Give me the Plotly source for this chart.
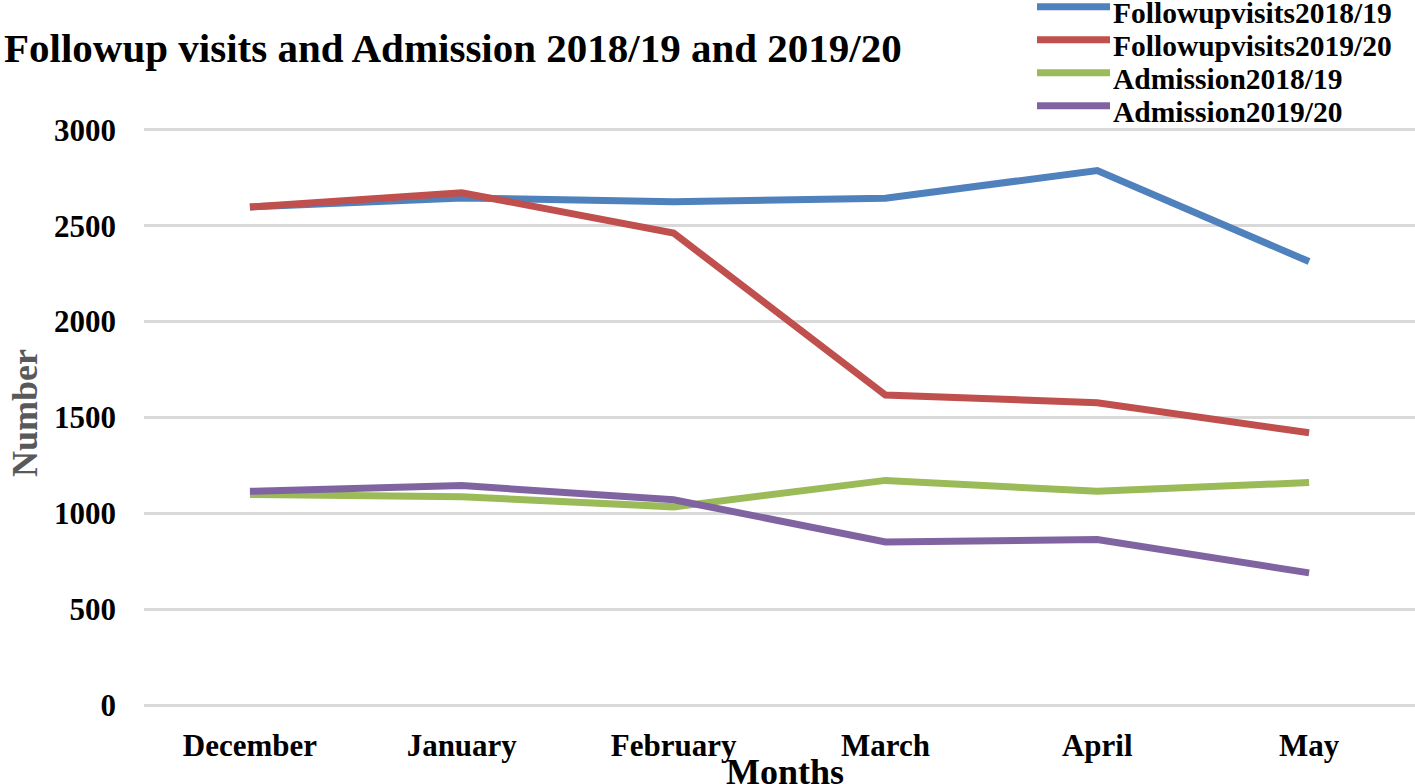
import plotly.graph_objects as go

months = ["December", "January", "February", "March", "April", "May"]
followup_2018_19 = [2598, 2645, 2625, 2643, 2788, 2313]
followup_2019_20 = [2598, 2672, 2462, 1617, 1577, 1420]
admission_2018_19 = [1099, 1087, 1034, 1172, 1115, 1161]
admission_2019_20 = [1115, 1145, 1071, 851, 864, 690]

series_names = ["Followupvisits2018/19", "Followupvisits2019/20", "Admission2018/19", "Admission2019/20"]
series_values = [followup_2018_19, followup_2019_20, admission_2018_19, admission_2019_20]
colors = ["#4f81bd", "#c0504d", "#9bbb59", "#8064a2"]

FONT = "Liberation Serif"
W, H = 1415, 784
# plot area in page pixels
PX0, PX1 = 144, 1415
Y0V, Y1V = -20, 3020
PY_BOT = 705 - Y0V * 575 / 3000
PY_TOP = 705 - Y1V * 575 / 3000
L = PX0
R = W - PX1
T = PY_TOP
B = H - PY_BOT


def px(x):
    return (x - PX0) / (PX1 - PX0)


def py(y):
    return (PY_BOT - y) / (PY_BOT - PY_TOP)


fig = go.Figure()
for name, vals, col in zip(series_names, series_values, colors):
    fig.add_trace(go.Scatter(x=months, y=vals, name=name, mode="lines",
                             line=dict(color=col, width=7), showlegend=False))

fig.update_layout(
    width=W, height=H,
    paper_bgcolor="white", plot_bgcolor="white",
    margin=dict(l=L, r=R, t=T, b=B, autoexpand=False, pad=0),
    font=dict(family=FONT, color="black"),
    showlegend=False,
    xaxis=dict(type="category", showgrid=False, zeroline=False, showline=False,
               range=[-0.5, 5.5],
               tickfont=dict(family=FONT, size=31, color="black", weight="bold"),
               ticks="", ticklabelstandoff=15),
    yaxis=dict(range=[Y0V, Y1V], tickvals=[0, 500, 1000, 1500, 2000, 2500, 3000],
               showgrid=True, gridcolor="#d9d9d9",
               gridwidth=2.5, zeroline=False, showline=False, ticks="",
               tickfont=dict(family=FONT, size=31, color="black", weight="bold"),
               ticklabelstandoff=27),
)

# custom legend (positions in page pixels)
leg_y = [7, 40, 73, 106]
for name, col, yy in zip(series_names, colors, leg_y):
    fig.add_shape(type="line", xref="paper", yref="paper",
                  x0=px(1037), x1=px(1110), y0=py(yy), y1=py(yy),
                  line=dict(color=col, width=7))
    fig.add_annotation(text=name, xref="paper", yref="paper",
                       x=px(1111), y=py(yy + 6),
                       xanchor="left", yanchor="middle", showarrow=False,
                       font=dict(family=FONT, size=29.5, color="black", weight="bold"))

fig.add_annotation(text="Followup visits and Admission 2018/19 and 2019/20",
                   xref="paper", yref="paper", x=px(2), y=py(48),
                   xanchor="left", yanchor="middle", showarrow=False,
                   font=dict(family=FONT, size=41, color="black", weight="bold"))
fig.add_annotation(text="Number", xref="paper", yref="paper",
                   x=px(25), y=py(413), textangle=-90,
                   xanchor="center", yanchor="middle", showarrow=False,
                   font=dict(family=FONT, size=36, color="#595959", weight="bold"))
fig.add_annotation(text="Months", xref="paper", yref="paper",
                   x=px(785), y=py(772),
                   xanchor="center", yanchor="middle", showarrow=False,
                   font=dict(family=FONT, size=36, color="black", weight="bold"))

fig.write_html("out.html", config={"displayModeBar": False},
               post_script="document.body.style.margin='0';document.body.style.overflow='hidden';")
